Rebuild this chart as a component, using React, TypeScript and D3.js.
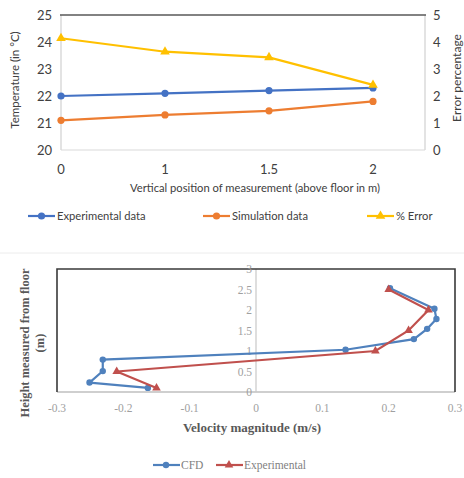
import React, {useEffect, useRef} from 'react';
import * as d3 from 'd3';

// top chart: temperature vs vertical position
const positions = ['0', '1', '1.5', '2'];
const experimentalTemp = [22.0, 22.1, 22.2, 22.3];
const simulationTemp = [21.1, 21.3, 21.45, 21.8];
const errorPct = [4.14, 3.64, 3.43, 2.41];
const tempTicks = [20, 21, 22, 23, 24, 25];
const errorTicks = [0, 1, 2, 3, 4, 5];

// bottom chart: velocity profile (velocity, height)
const cfdVelocity = [0.202, 0.269, 0.272, 0.258, 0.238, 0.135, -0.231, -0.231, -0.251, -0.163];
const cfdHeight = [2.53, 2.03, 1.78, 1.54, 1.29, 1.03, 0.79, 0.51, 0.23, 0.1];
const expVelocity = [0.2, 0.26, 0.23, 0.18, -0.21, -0.15];
const expHeight = [2.5, 2.0, 1.5, 1.0, 0.5, 0.1];
const velocityTicks = [-0.3, -0.2, -0.1, 0, 0.1, 0.2, 0.3];
const heightTicks = [0, 0.5, 1, 1.5, 2, 2.5, 3];

const SANS = 'Lato, "Open Sans", sans-serif';
const SERIF = '"Liberation Serif", "DejaVu Serif", serif';

const App = () => {
    const svgRef = useRef<SVGSVGElement>(null);

    useEffect(() => {
        const svg = d3.select(svgRef.current);
        svg.selectAll('*').remove();

        // ---------- top chart ----------
        const top = svg.append('g');
        const x1 = d3.scaleLinear().domain([0, 3.5]).range([61, 425]);
        const yT = d3.scaleLinear().domain([20, 25]).range([150, 15]);
        const yE = d3.scaleLinear().domain([0, 5]).range([150, 15]);

        // frame
        top.append('line').attr('x1', 61).attr('x2', 61).attr('y1', 15).attr('y2', 150).attr('stroke', '#d0d0d0').attr('stroke-width', 1.2);
        top.append('line').attr('x1', 425).attr('x2', 425).attr('y1', 15).attr('y2', 150).attr('stroke', '#d0d0d0').attr('stroke-width', 1.2);
        top.append('line').attr('x1', 61).attr('x2', 425).attr('y1', 150).attr('y2', 150).attr('stroke', '#d9d9d9').attr('stroke-width', 1);
        top.append('line').attr('x1', 60).attr('x2', 426).attr('y1', 15).attr('y2', 15).attr('stroke', '#595959').attr('stroke-width', 1.6);

        top.selectAll('.tl').data(tempTicks).join('text')
            .attr('x', 52).attr('y', d => yT(d)).attr('dy', '0.35em')
            .attr('text-anchor', 'end').attr('font-family', SANS).attr('font-size', 13)
            .attr('fill', '#404040').text(d => d);
        top.selectAll('.tr').data(errorTicks).join('text')
            .attr('x', 433).attr('y', d => yE(d)).attr('dy', '0.35em')
            .attr('font-family', SANS).attr('font-size', 13)
            .attr('fill', '#404040').text(d => d);
        top.selectAll('.tx').data(positions).join('text')
            .attr('x', (d, i) => x1(i)).attr('y', 174)
            .attr('text-anchor', 'middle').attr('font-family', SANS).attr('font-size', 13)
            .attr('fill', '#404040').text(d => d);

        top.append('text').attr('x', 255).attr('y', 192).attr('text-anchor', 'middle')
            .attr('font-family', SANS).attr('font-size', 11.2).attr('fill', '#404040')
            .text('Vertical position of measurement (above floor in m)');
        top.append('text').attr('transform', 'translate(19,80) rotate(-90)').attr('text-anchor', 'middle')
            .attr('font-family', SANS).attr('font-size', 11.5).attr('fill', '#404040')
            .text('Temperature (in \u00B0C)');
        top.append('text').attr('transform', 'translate(461,78) rotate(-90)').attr('text-anchor', 'middle')
            .attr('font-family', SANS).attr('font-size', 12).attr('fill', '#404040')
            .text('Error percentage');

        const topSeries = [
            {values: experimentalTemp, y: yT, color: '#4472C4', marker: 'circle'},
            {values: simulationTemp, y: yT, color: '#ED7D31', marker: 'circle'},
            {values: errorPct, y: yE, color: '#FFC000', marker: 'triangle'},
        ];
        const tri = d3.symbol().type(d3.symbolTriangle).size(40);
        const triSmall = d3.symbol().type(d3.symbolTriangle).size(32);
        topSeries.forEach(s => {
            const line = d3.line<number>().x((d, i) => x1(i)).y(d => s.y(d));
            top.append('path').attr('d', line(s.values)).attr('fill', 'none')
                .attr('stroke', s.color).attr('stroke-width', 2.2);
            if (s.marker === 'circle') {
                top.selectAll(null).data(s.values).join('circle')
                    .attr('cx', (d, i) => x1(i)).attr('cy', d => s.y(d)).attr('r', 3.6).attr('fill', s.color);
            } else {
                top.selectAll(null).data(s.values).join('path')
                    .attr('transform', (d, i) => `translate(${x1(i)},${s.y(d)})`).attr('d', tri()).attr('fill', s.color);
            }
        });

        // top legend
        const topLegend = [
            {label: 'Experimental data', color: '#4472C4', marker: 'circle', x: 28},
            {label: 'Simulation data', color: '#ED7D31', marker: 'circle', x: 203},
            {label: '% Error', color: '#FFC000', marker: 'triangle', x: 367},
        ];
        topLegend.forEach(l => {
            const g = top.append('g').attr('transform', `translate(${l.x},216)`);
            g.append('line').attr('x1', 0).attr('x2', 27).attr('stroke', l.color).attr('stroke-width', 2.2);
            if (l.marker === 'circle') g.append('circle').attr('cx', 13.5).attr('r', 3.6).attr('fill', l.color);
            else g.append('path').attr('transform', 'translate(13.5,0)').attr('d', tri()).attr('fill', l.color);
            g.append('text').attr('x', 29).attr('dy', '0.35em').attr('font-family', SANS)
                .attr('font-size', 11.2).attr('fill', '#404040').text(l.label);
        });

        // separator
        svg.append('line').attr('x1', 0).attr('x2', 464).attr('y1', 253).attr('y2', 253)
            .attr('stroke', '#ececec').attr('stroke-width', 1);

        // ---------- bottom chart ----------
        const bot = svg.append('g');
        const xV = d3.scaleLinear().domain([-0.3, 0.3]).range([57, 455]);
        const yH = d3.scaleLinear().domain([0, 3]).range([392, 269]);

        bot.append('line').attr('x1', xV(-0.3)).attr('x2', xV(0.3)).attr('y1', yH(0)).attr('y2', yH(0))
            .attr('stroke', '#bfbfbf').attr('stroke-width', 1.3);
        bot.append('line').attr('x1', xV(0)).attr('x2', xV(0)).attr('y1', yH(3)).attr('y2', yH(0))
            .attr('stroke', '#c8c8c8').attr('stroke-width', 1.2);
        bot.append('path')
            .attr('d', `M${xV(-0.3)},${yH(0)}V${yH(3)}H${xV(0.3)}V${yH(0)}`)
            .attr('fill', 'none').attr('stroke', '#3a3a3a').attr('stroke-width', 1.6);

        bot.selectAll('.hy').data(heightTicks).join('text')
            .attr('x', xV(0) - 4).attr('y', d => yH(d)).attr('dy', '0.35em').attr('text-anchor', 'end')
            .attr('font-family', SERIF).attr('font-size', 11.5).attr('fill', '#a0a0a0')
            .text(d => String(d));
        bot.selectAll('.vx').data(velocityTicks).join('text')
            .attr('x', d => xV(d)).attr('y', 412).attr('text-anchor', 'middle')
            .attr('font-family', SERIF).attr('font-size', 11.5).attr('fill', '#a0a0a0')
            .text(d => (d === 0 ? '0' : d.toFixed(1)));

        bot.append('text').attr('x', 252).attr('y', 432).attr('text-anchor', 'middle')
            .attr('font-family', SERIF).attr('font-size', 13).attr('font-weight', 'bold').attr('fill', '#595959')
            .text('Velocity magnitude (m/s)');
        const yt = bot.append('text').attr('transform', 'translate(0,343) rotate(-90)').attr('text-anchor', 'middle')
            .attr('font-family', SERIF).attr('font-size', 12.5).attr('font-weight', 'bold').attr('fill', '#595959');
        yt.append('tspan').attr('x', 0).attr('y', 29).text('Height measured from floor');
        yt.append('tspan').attr('x', 0).attr('y', 44).text('(m)');

        const lineVH = d3.line<[number, number]>().x(d => xV(d[0])).y(d => yH(d[1]));
        const cfd = cfdVelocity.map((v, i) => [v, cfdHeight[i]] as [number, number]);
        const exp = expVelocity.map((v, i) => [v, expHeight[i]] as [number, number]);

        bot.append('path').attr('d', lineVH(cfd)).attr('fill', 'none').attr('stroke', '#4F81BD').attr('stroke-width', 2.2);
        bot.selectAll(null).data(cfd).join('circle')
            .attr('cx', d => xV(d[0])).attr('cy', d => yH(d[1])).attr('r', 3.2).attr('fill', '#4F81BD');
        bot.append('path').attr('d', lineVH(exp)).attr('fill', 'none').attr('stroke', '#C0504D').attr('stroke-width', 2.2);
        bot.selectAll(null).data(exp).join('path')
            .attr('transform', d => `translate(${xV(d[0])},${yH(d[1])})`).attr('d', triSmall()).attr('fill', '#C0504D');

        // bottom legend
        const botLegend = [
            {label: 'CFD', color: '#4F81BD', marker: 'circle', x: 153},
            {label: 'Experimental', color: '#C0504D', marker: 'triangle', x: 216},
        ];
        botLegend.forEach(l => {
            const g = bot.append('g').attr('transform', `translate(${l.x},465)`);
            g.append('line').attr('x1', 0).attr('x2', 27).attr('stroke', l.color).attr('stroke-width', 2.2);
            if (l.marker === 'circle') g.append('circle').attr('cx', 13).attr('r', 3.2).attr('fill', l.color);
            else g.append('path').attr('transform', 'translate(13,0)').attr('d', triSmall()).attr('fill', l.color);
            g.append('text').attr('x', 28).attr('dy', '0.35em').attr('font-family', SERIF)
                .attr('font-size', 11.5).attr('fill', '#7f7f7f').text(l.label);
        });
    }, []);

    return (
        <svg ref={svgRef} width={464} height={478}
             style={{position: 'absolute', left: 0, top: 0, background: '#fff'}} />
    );
};

export default App;
